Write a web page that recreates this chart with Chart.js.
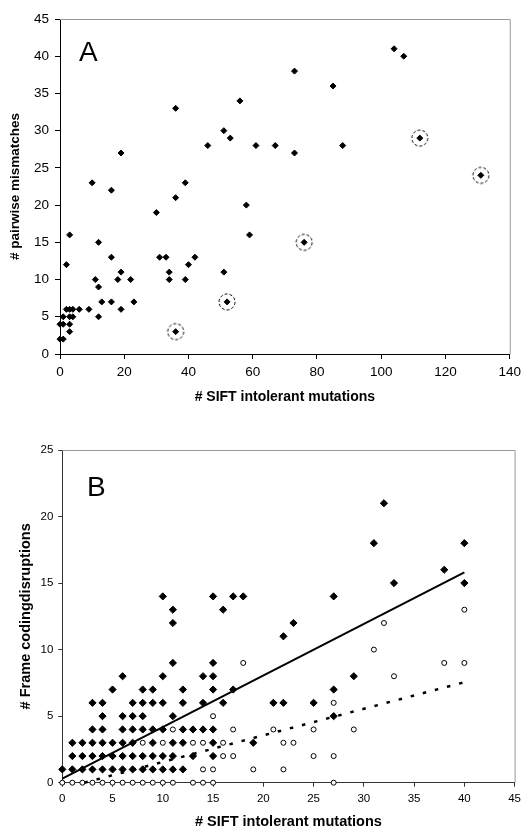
<!DOCTYPE html>
<html lang="en">
<head>
<meta charset="UTF-8">
<title>SIFT intolerant mutations</title>
<script src="https://cdn.jsdelivr.net/npm/chart.js@4"></script>
<style>
  body { margin: 0; background: #fff; font-family: Arial, 'Liberation Sans', sans-serif; }
  .panel { position: absolute; left: 0; }
  #panelA { top: 0; }
  #panelB { top: 420px; }
  .tag { position: absolute; font-size: 28px; line-height: 28px; color: #000; }
</style>
</head>
<body>
<canvas id="panelA" class="panel" width="526" height="415"></canvas>
<canvas id="panelB" class="panel" width="526" height="411"></canvas>
<div class="tag" style="left:79px; top:38px;">A</div>
<div class="tag" style="left:87px; top:473px;">B</div>

<script>
// ---- panel A: pairwise mismatches vs SIFT intolerant mutations ----
const aSift     = [0, 1, 0, 1, 1, 3, 3, 3, 4, 12, 2, 3, 4, 6, 9, 19, 13, 16, 23, 52, 12, 11, 18, 22, 34, 39, 19, 34, 51, 2, 40, 16, 31, 33, 42, 12, 76, 3, 59, 30, 58, 36, 16, 10, 39, 131, 19, 73, 46, 61, 67, 88, 53, 112, 51, 36, 56, 85, 73, 107, 104, 36];
const aMismatch = [2, 2, 4, 4, 5, 3, 4, 5, 5, 5, 6, 6, 6, 6, 6, 6, 7, 7, 7, 7, 9, 10, 10, 10, 10, 10, 11, 11, 11, 12, 12, 13, 13, 13, 13, 15, 15, 16, 16, 19, 20, 21, 22, 23, 23, 24, 27, 27, 28, 28, 28, 28, 29, 29, 30, 33, 34, 36, 38, 40, 41, 3];
// circled outliers
const aCircledSift     = [36, 52, 76, 112, 131];
const aCircledMismatch = [3, 7, 15, 29, 24];

// ---- panel B: frame coding disruptions vs SIFT intolerant mutations ----
const bFilledSift  = [0,1,2,3,4,5,6,7,8,9,10,11,12,
                      1,2,3,4,5,6,7,8,9,10,11,13,15,
                      1,2,3,4,5,6,7,9,11,12,15,19,
                      3,4,6,7,8,9,10,12,13,14,15,
                      4,6,7,8,11,
                      3,4,7,8,9,10,12,14,16,
                      5,8,9,12,15,17,
                      6,10,14,15,
                      11,15,
                      11,
                      11,16,
                      10,15,17,18,
                      21,22,25,27,27,29,22,23,27,33,40,38,31,40,32];
const bFilledFrame = [1,1,1,1,1,1,1,1,1,1,1,1,1,
                      2,2,2,2,2,2,2,2,2,2,2,2,2,
                      3,3,3,3,3,3,3,3,3,3,3,3,
                      4,4,4,4,4,4,4,4,4,4,4,
                      5,5,5,5,5,
                      6,6,6,6,6,6,6,6,6,
                      7,7,7,7,7,7,
                      8,8,8,8,
                      9,9,
                      12,
                      13,13,
                      14,14,14,14,
                      6,6,6,7,5,8,11,12,14,15,15,16,18,18,21];
const bOpenSift  = [0,1,2,3,4,5,6,7,8,9,10,11,13,14,15,27,
                    14,15,19,22,
                    16,17,25,27,
                    8,10,13,14,16,22,23,
                    11,17,21,25,29,
                    15, 27, 33,
                    18,38,40,
                    31, 32, 40];
const bOpenFrame = [0,0,0,0,0,0,0,0,0,0,0,0,0,0,0,0,
                    1,1,1,1,
                    2,2,2,2,
                    3,3,3,3,3,3,3,
                    4,4,4,4,4,
                    5, 6, 8,
                    9,9,9,
                    10, 12, 13];
// trend lines (end points)
const bSolidSift  = [0, 40];
const bSolidFrame = [0.3, 15.8];
const bDashSift   = [2.2, 40];
const bDashFrame  = [0, 7.55];

const FONT = "Arial, 'Liberation Sans', sans-serif";

function pts(xs, ys) {
  return xs.map((x, i) => ({ x: x, y: ys[i] }));
}

// dashed ring used to mark the outliers in panel A
function dashedRing() {
  const c = document.createElement('canvas');
  c.width = 20; c.height = 20;
  const g = c.getContext('2d');
  g.strokeStyle = '#000';
  g.lineWidth = 1;
  g.setLineDash([3, 2]);
  g.beginPath();
  g.arc(10, 10, 8, 0, Math.PI * 2);
  g.stroke();
  return c;
}

// grey top/right edge of the plot area
const framePlugin = {
  id: 'frame',
  beforeDatasetsDraw(chart) {
    const { ctx, chartArea: a } = chart;
    ctx.save();
    ctx.strokeStyle = '#999';
    ctx.lineWidth = 1;
    ctx.beginPath();
    ctx.moveTo(a.left, a.top + 0.5);
    ctx.lineTo(a.right + 0.5, a.top + 0.5);
    ctx.lineTo(a.right + 0.5, a.bottom);
    ctx.stroke();
    ctx.restore();
  }
};

function axis(o) {
  return {
    type: 'linear',
    min: o.min,
    max: o.max,
    afterFit: o.fit,
    ticks: {
      stepSize: o.step,
      color: '#000',
      padding: o.pad,
      font: { family: FONT, size: o.tickSize }
    },
    grid: {
      drawOnChartArea: false,
      drawTicks: true,
      tickLength: o.tickLen,
      tickColor: o.line
    },
    border: { display: true, color: o.line, width: 1 },
    title: {
      display: true,
      text: o.title,
      color: '#000',
      font: { family: FONT, size: o.titleSize, weight: 'bold' },
      padding: o.titlePad
    }
  };
}

Chart.defaults.animation = false;

// ---------- panel A ----------
new Chart(document.getElementById('panelA'), {
  type: 'scatter',
  data: {
    datasets: [
      {
        data: pts(aCircledSift, aCircledMismatch),
        pointStyle: dashedRing(),
        pointRadius: 8,
        clip: false,
        order: 0
      },
      {
        data: pts(aSift, aMismatch),
        pointStyle: 'rectRot',
        pointRadius: 3,
        backgroundColor: '#000',
        borderColor: '#000',
        borderWidth: 1,
        clip: false,
        order: 1
      }
    ]
  },
  options: {
    responsive: false,
    events: [],
    layout: { padding: { top: 19, right: 11.5, left: 0, bottom: 0 } },
    plugins: { legend: { display: false }, tooltip: { enabled: false } },
    scales: {
      x: axis({ min: 0, max: 140, step: 20, pad: 5, tickSize: 13.5, tickLen: 5, line: '#000',
                title: '# SIFT intolerant mutations', titleSize: 14,
                titlePad: { top: 0, bottom: 9.6 },
                fit: s => { s.height = 61; } }),
      y: axis({ min: 0, max: 45, step: 5, pad: 6, tickSize: 13.5, tickLen: 5, line: '#000',
                title: '# pairwise mismatches', titleSize: 13.5,
                titlePad: { top: 7, bottom: 0 },
                fit: s => { s.width = 60; } })
    }
  },
  plugins: [framePlugin]
});

// ---------- panel B ----------
new Chart(document.getElementById('panelB'), {
  type: 'scatter',
  data: {
    datasets: [
      {
        type: 'line',
        data: pts(bSolidSift, bSolidFrame),
        borderColor: '#000',
        borderWidth: 2,
        pointRadius: 0,
        fill: false,
        clip: false,
        order: 0
      },
      {
        type: 'line',
        data: pts(bDashSift, bDashFrame),
        borderColor: '#000',
        borderWidth: 2.5,
        borderDash: [3.5, 9],
        pointRadius: 0,
        fill: false,
        clip: false,
        order: 0
      },
      {
        data: pts(bFilledSift, bFilledFrame),
        pointStyle: 'rectRot',
        pointRadius: 3.6,
        backgroundColor: '#000',
        borderColor: '#000',
        borderWidth: 1,
        clip: false,
        order: 1
      },
      {
        data: pts(bOpenSift, bOpenFrame),
        pointStyle: 'circle',
        pointRadius: 2.5,
        backgroundColor: '#fff',
        borderColor: '#000',
        borderWidth: 1,
        clip: false,
        order: 2
      }
    ]
  },
  options: {
    responsive: false,
    events: [],
    layout: { padding: { top: 30, right: 8, left: 0, bottom: 0 } },
    plugins: { legend: { display: false }, tooltip: { enabled: false } },
    scales: {
      x: axis({ min: 0, max: 45, step: 5, pad: 5, tickSize: 11.5, tickLen: 4, line: '#333',
                title: '# SIFT intolerant mutations', titleSize: 14.5,
                titlePad: { top: 0, bottom: 0.3 },
                fit: s => { s.height = 48.3; } }),
      y: axis({ min: 0, max: 25, step: 5, pad: 5, tickSize: 11.5, tickLen: 4, line: '#333',
                title: '# Frame codingdisruptions', titleSize: 14.5,
                titlePad: { top: 17, bottom: 0 },
                fit: s => { s.width = 62.3; } })
    }
  },
  plugins: [framePlugin]
});
</script>
</body>
</html>
